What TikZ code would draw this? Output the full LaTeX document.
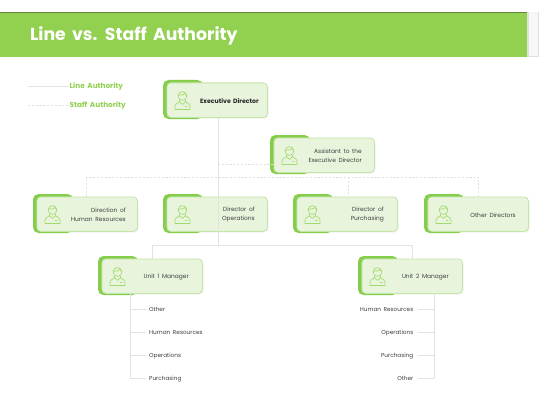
\documentclass[tikz,border=0pt]{standalone}
\usepackage{fontspec}
\setmainfont[WordSpace=1.7]{Poppins}
\usetikzlibrary{calc}
\definecolor{gmain}{HTML}{92D050}
\definecolor{gdark}{HTML}{66803F}
\definecolor{gback}{HTML}{85CE4B}
\definecolor{gfill}{HTML}{E8F4DC}
\definecolor{gedge}{HTML}{C4E5A8}
\definecolor{gicon}{HTML}{A3DA6C}
\definecolor{linec}{HTML}{E2E2E2}
\definecolor{txt}{HTML}{404040}
\tikzset{
  x=1pt,y=-1pt,
  solidlink/.style={draw=linec,line width=.7pt},
  staff/.style={draw=linec,line width=.6pt,dash pattern=on 2.2pt off 1.6pt},
  backbox/.style={fill=gback,rounded corners=5.5pt},
  frontbox/.style={fill=gfill,draw=gedge,line width=.8pt,rounded corners=4pt},
  boxtext/.style={anchor=east,align=right,inner sep=0pt,text=txt,font=\fontsize{5.9}{9.4}\selectfont},
  leaf/.style={inner sep=0pt,text=txt,font=\fontsize{5.75}{8}\selectfont},
  legend/.style={anchor=west,inner sep=0pt,text=gmain,font=\fontsize{7.3}{9}\selectfont\bfseries},
  iconline/.style={draw=gicon,line width=.65pt,line join=round,line cap=round},
}
% #1 name, #2 left of back, #3 top of back, #4 right of text, #5 text, #6 extra options
\newcommand{\personbox}[6]{%
  \fill[black!5,rounded corners=4pt] (#2+5.5,#3+4.5) rectangle (#2+105.5,#3+38.5);
  \fill[backbox] (#2,#3) rectangle (#2+40,#3+39);
  \node[frontbox,minimum width=100.5pt,minimum height=34.5pt,inner sep=0pt,anchor=north west] (#1) at (#2+3.5,#3+2.5) {};
  \begin{scope}[shift={(#2+19.5,#3+19.5)}]
    \draw[iconline] (0,-3.5) circle[radius=4.4];
    \draw[iconline] (-4.4,-4.5) .. controls (-2,-3.5) and (1.5,-5) .. (2,-6) .. controls (3,-5) and (4,-5) .. (4.3,-4);
    \draw[iconline] (-3,1) -- (-3,2.2) -- (-6.4,4.5) .. controls (-7.4,5.2) and (-7.6,6.5) .. (-7.6,10) -- (7.6,10) .. controls (7.6,6.5) and (7.4,5.2) .. (6.4,4.5) -- (3,2.2) -- (3,1);
    \draw[iconline] (-3,2.2) -- (0,5) -- (3,2.2);
    \draw[iconline] (3,7) -- (4.6,7);
  \end{scope}
  \node[boxtext,#6] (#1t) at (#4,#3+20.8) {#5};
}
\begin{document}
\begin{tikzpicture}
\useasboundingbox (0,0) rectangle (560,420);
\fill[white] (0,0) rectangle (560,420);
% header
\fill[black!12] (526,12) -- (538.5,12) -- (538.5,57.5) -- (526,57.5) -- cycle;
\fill[white!97!black] (528.5,12.5) rectangle (537.5,56.5);
\fill[gmain] (0,12) rectangle (527,57.5);
\fill[gdark] (0,12) rectangle (527,13.2);
\node[anchor=west,inner sep=0pt,text=white,font=\fontsize{17.3}{20}\selectfont\bfseries] (title) at (30,35.5) {Line vs. Staff Authority};
% legend
\coordinate (la) at (28,86);
\coordinate (lb) at (28,105);
\node[legend] (lt) at (69.5,86.8) {Line Authority};
\node[legend] (st) at (69.5,105.8) {Staff Authority};
\draw[solidlink,shorten >=2pt] (la) -- (lt.west|-la);
\draw[staff,shorten >=2pt] (lb) -- (st.west|-lb);
% boxes
\personbox{exec}{163}{80}{259}{Executive Director}{font=\fontsize{6.2}{8}\selectfont\bfseries,text=black!85}
\personbox{asst}{270}{135}{362}{Assistant to the\\Executive Director}{}
\personbox{hr}{33}{194}{126}{Direction of\\Human Resources}{}
\personbox{ops}{163}{194}{255}{Director of\\Operations}{}
\personbox{pur}{293}{194}{384}{Director of\\Purchasing}{}
\personbox{oth}{424}{194}{516}{Other Directors}{}
\personbox{uone}{98}{256}{189}{Unit 1 Manager}{}
\personbox{utwo}{358}{256}{449}{Unit 2 Manager}{}
% junctions
\coordinate (j1) at (218,164);
\coordinate (j2) at (218,245);
\coordinate (sl) at (86,177);
\coordinate (sm) at (348,177);
\coordinate (sr) at (478,177);
\coordinate (ul) at (152,245);
\coordinate (ur) at (412,245);
% line authority
\draw[solidlink] (exec.south-|j2) -- (j2);
\draw[solidlink] (uone.north-|ul) -- (ul) -- (ur) -- (utwo.north-|ur);
% staff authority
\draw[staff] (j1) -- (asst.west|-j1);
\draw[staff] (hr.north-|sl) -- (sl) -- (sr) -- (oth.north-|sr);
\draw[staff] (sm) -- (pur.north-|sm);
% unit 1 leaves
\coordinate (a0) at (130,293);
\coordinate (a1) at (130,309);
\coordinate (a2) at (130,332);
\coordinate (a3) at (130,355);
\coordinate (a4) at (130,378);
\node[leaf,anchor=west] (l1) at (149,309.6) {Other};
\node[leaf,anchor=west] (l2) at (149,332.6) {Human Resources};
\node[leaf,anchor=west] (l3) at (149,355.6) {Operations};
\node[leaf,anchor=west] (l4) at (149,378.6) {Purchasing};
\draw[solidlink] (a0) -- (a4);
\foreach \i in {1,2,3,4} \draw[solidlink,shorten >=3pt] (a\i) -- (a\i-|l\i.west);
% unit 2 leaves
\coordinate (b0) at (434,293);
\coordinate (b1) at (434,309);
\coordinate (b2) at (434,332);
\coordinate (b3) at (434,355);
\coordinate (b4) at (434,378);
\node[leaf,anchor=east] (r1) at (413.5,309.6) {Human Resources};
\node[leaf,anchor=east] (r2) at (413.5,332.6) {Operations};
\node[leaf,anchor=east] (r3) at (413.5,355.6) {Purchasing};
\node[leaf,anchor=east] (r4) at (413.5,378.6) {Other};
\draw[solidlink] (b0) -- (b4);
\foreach \i in {1,2,3,4} \draw[solidlink,shorten >=4pt] (b\i) -- (b\i-|r\i.east);
\end{tikzpicture}
\end{document}
